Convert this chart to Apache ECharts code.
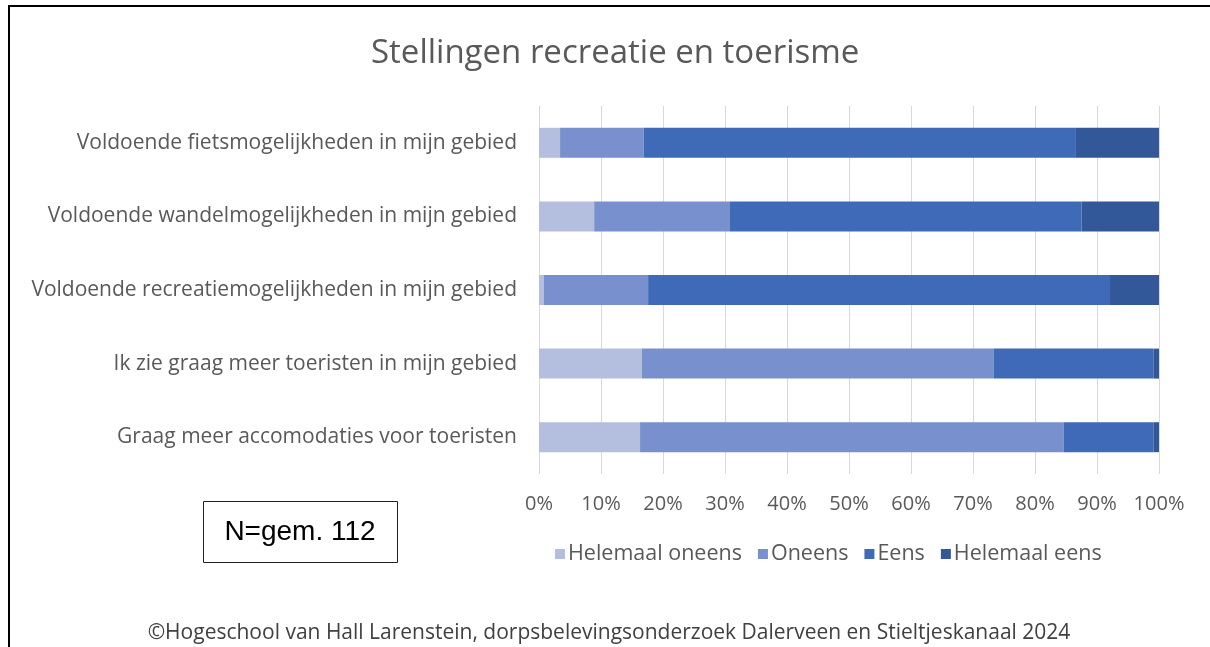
<!DOCTYPE html>
<html><head><meta charset="utf-8">
<script src="https://cdn.jsdelivr.net/npm/echarts@6/dist/echarts.min.js"></script>
<style>html,body{margin:0;padding:0;background:#fff}#c{width:1210px;height:647px}</style>
</head><body><div id="c"></div>
<script>
const categories = [
  "Voldoende fietsmogelijkheden in mijn gebied",
  "Voldoende wandelmogelijkheden in mijn gebied",
  "Voldoende recreatiemogelijkheden in mijn gebied",
  "Ik zie graag meer toeristen in mijn gebied",
  "Graag meer accomodaties voor toeristen"
];
const seriesNames = ["Helemaal oneens", "Oneens", "Eens", "Helemaal eens"];
const helemaalOneens = [3.4, 8.9, 0.8, 16.6, 16.3];
const oneens = [13.5, 21.9, 16.8, 56.7, 68.3];
const eens = [69.7, 56.7, 74.5, 25.8, 14.5];
const helemaalEens = [13.4, 12.5, 7.9, 0.9, 0.9];
const tickValues = [0, 10, 20, 30, 40, 50, 60, 70, 80, 90, 100];

const colors = ["#B4BFE0", "#7890CD", "#3E6AB7", "#325899"];
const allData = [helemaalOneens, oneens, eens, helemaalEens];
const font = "Open Sans";

const chart = echarts.init(document.getElementById('c'));
chart.setOption({
  animation: false,
  backgroundColor: '#fff',
  color: colors,
  title: {
    text: 'Stellingen recreatie en toerisme',
    left: 366, top: 32,
    textStyle: { fontFamily: font, fontSize: 33, fontWeight: 'normal', color: '#595959' }
  },
  legend: {
    data: seriesNames,
    left: 550, top: 538,
    itemWidth: 10, itemHeight: 10, itemGap: 16,
    icon: 'rect',
    textStyle: { fontFamily: font, fontSize: 21.5, color: '#595959', padding: [0,0,0,-2] }
  },
  grid: { left: 539, right: 51, top: 106, bottom: 173 },
  xAxis: {
    type: 'value', min: tickValues[0], max: tickValues[tickValues.length-1], interval: 10,
    axisLine: { show: false }, axisTick: { show: false },
    splitLine: { lineStyle: { color: '#D9D9D9', width: 1 } },
    axisLabel: { formatter: '{value}%', margin: 20, fontFamily: font, fontSize: 20, color: '#595959' }
  },
  yAxis: {
    type: 'category', data: categories, inverse: true,
    axisLine: { show: false }, axisTick: { show: false },
    axisLabel: { margin: 22, fontFamily: font, fontSize: 21, color: '#595959' }
  },
  series: seriesNames.map((n, i) => ({
    name: n, type: 'bar', stack: 'total', barWidth: 30,
    data: allData[i],
    itemStyle: { color: colors[i] }
  })),
  graphic: [
    { type: 'rect', shape: { x: 9, y: 6, width: 1300, height: 800 }, style: { fill: 'none', stroke: '#000', lineWidth: 2 } },
    { type: 'rect', shape: { x: 203.5, y: 501.5, width: 194, height: 61 }, style: { fill: '#fff', stroke: '#222', lineWidth: 1 } },
    { type: 'text', x: 300, y: 532, style: { text: 'N=gem. 112', font: '28px "Liberation Sans"', fill: '#000', align: 'center', verticalAlign: 'middle' } },
    { type: 'text', x: 609, y: 633, style: { text: '©Hogeschool van Hall Larenstein, dorpsbelevingsonderzoek Dalerveen en Stieltjeskanaal 2024', font: '21px "Open Sans"', fill: '#404040', align: 'center', verticalAlign: 'middle' } }
  ]
});
</script></body></html>
